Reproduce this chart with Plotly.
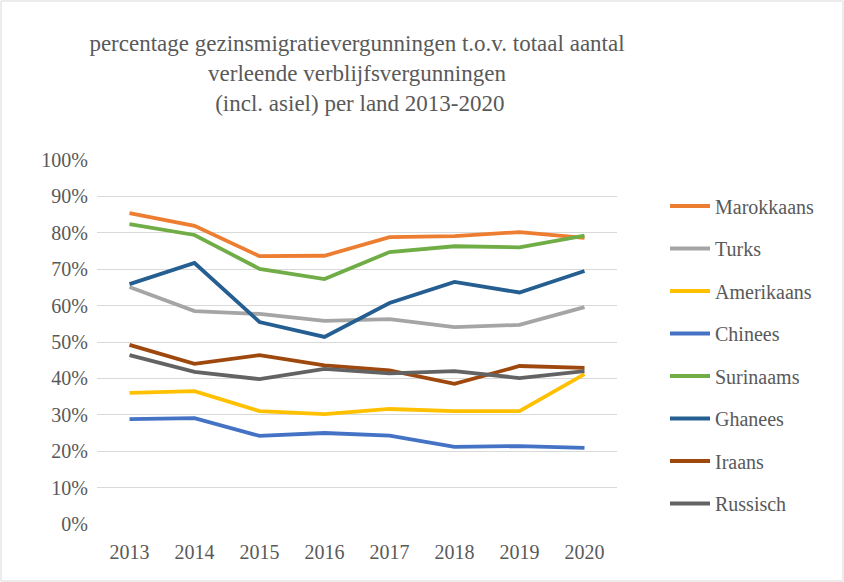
import plotly.graph_objects as go

years = ["2013", "2014", "2015", "2016", "2017", "2018", "2019", "2020"]
marokkaans = [85.4, 81.9, 73.6, 73.7, 78.8, 79.1, 80.2, 78.6]
turks = [65.1, 58.5, 57.7, 55.8, 56.3, 54.1, 54.7, 59.6]
amerikaans = [36.0, 36.5, 31.0, 30.2, 31.6, 31.0, 31.0, 41.2]
chinees = [28.8, 29.1, 24.2, 25.0, 24.3, 21.2, 21.4, 20.9]
surinaams = [82.4, 79.4, 70.1, 67.3, 74.7, 76.3, 76.0, 79.2]
ghanees = [65.9, 71.7, 55.5, 51.4, 60.7, 66.5, 63.6, 69.5]
iraans = [49.2, 44.0, 46.4, 43.6, 42.2, 38.5, 43.4, 42.9]
russisch = [46.4, 41.8, 39.8, 42.6, 41.4, 42.0, 40.1, 42.0]

y_ticks = [0, 10, 20, 30, 40, 50, 60, 70, 80, 90, 100]
y_tick_labels = [f"{v}%" for v in y_ticks]

series = [
    ("Marokkaans", marokkaans, "#ED7D31"),
    ("Turks", turks, "#A5A5A5"),
    ("Amerikaans", amerikaans, "#FFC000"),
    ("Chinees", chinees, "#4472C4"),
    ("Surinaams", surinaams, "#70AD47"),
    ("Ghanees", ghanees, "#255E91"),
    ("Iraans", iraans, "#9E480E"),
    ("Russisch", russisch, "#636363"),
]

FONT = "Liberation Serif"
TXT = "#595959"

fig = go.Figure()
for name, vals, color in series:
    fig.add_trace(go.Scatter(
        x=years, y=vals, name=name, mode="lines",
        line=dict(color=color, width=3.8),
        legendgroup=name,
    ))

W, H = 844, 582
ml, mr, mt, mb = 97, 227, 160, 58
pw = W - ml - mr
ph = H - mt - mb

fig.update_layout(
    width=W, height=H,
    margin=dict(l=ml, r=mr, t=mt, b=mb, autoexpand=False),
    paper_bgcolor="white", plot_bgcolor="white",
    font=dict(family=FONT, color=TXT, size=20),
    title=dict(
        text="percentage gezinsmigratievergunningen t.o.v. totaal aantal<br>verleende verblijfsvergunningen<br> (incl. asiel) per land 2013-2020",
        font=dict(family=FONT, size=23, color=TXT),
        x=0.5, xref="paper", xanchor="center",
        y=1 - 51 / H, yref="container", yanchor="top",
    ),
    xaxis=dict(
        type="category", showgrid=False, zeroline=False,
        showline=False, ticks="", tickfont=dict(size=20, color=TXT),
        range=[-0.5, 7.5], ticklabelstandoff=14,
    ),
    yaxis=dict(
        range=[0, 100], tickvals=y_ticks, ticktext=y_tick_labels,
        showgrid=True, gridcolor="#D9D9D9", gridwidth=1.3,
        zeroline=False, showline=False, ticks="",
        tickfont=dict(size=20, color=TXT), ticklabelstandoff=8,
    ),
    legend=dict(
        xref="container", yref="container",
        x=665 / W, xanchor="left",
        y=1 - 355 / H, yanchor="middle",
        font=dict(family=FONT, size=20, color=TXT),
        traceorder="grouped", tracegroupgap=13.5,
        itemwidth=40, maxheight=560,
        bgcolor="rgba(0,0,0,0)",
    ),
    shapes=[dict(
        type="rect", xref="paper", yref="paper",
        x0=(1 - ml) / pw, x1=(W - 1 - ml) / pw,
        y0=-(H - 1 - mt - ph) / ph, y1=1 + (mt - 1) / ph,
        line=dict(color="#D9D9D9", width=1), fillcolor="rgba(0,0,0,0)",
        layer="below",
    )],
)

fig.write_html(
    "out.html",
    config={"displayModeBar": False},
    post_script="document.body.style.margin='0px';document.body.style.overflow='hidden';",
)
